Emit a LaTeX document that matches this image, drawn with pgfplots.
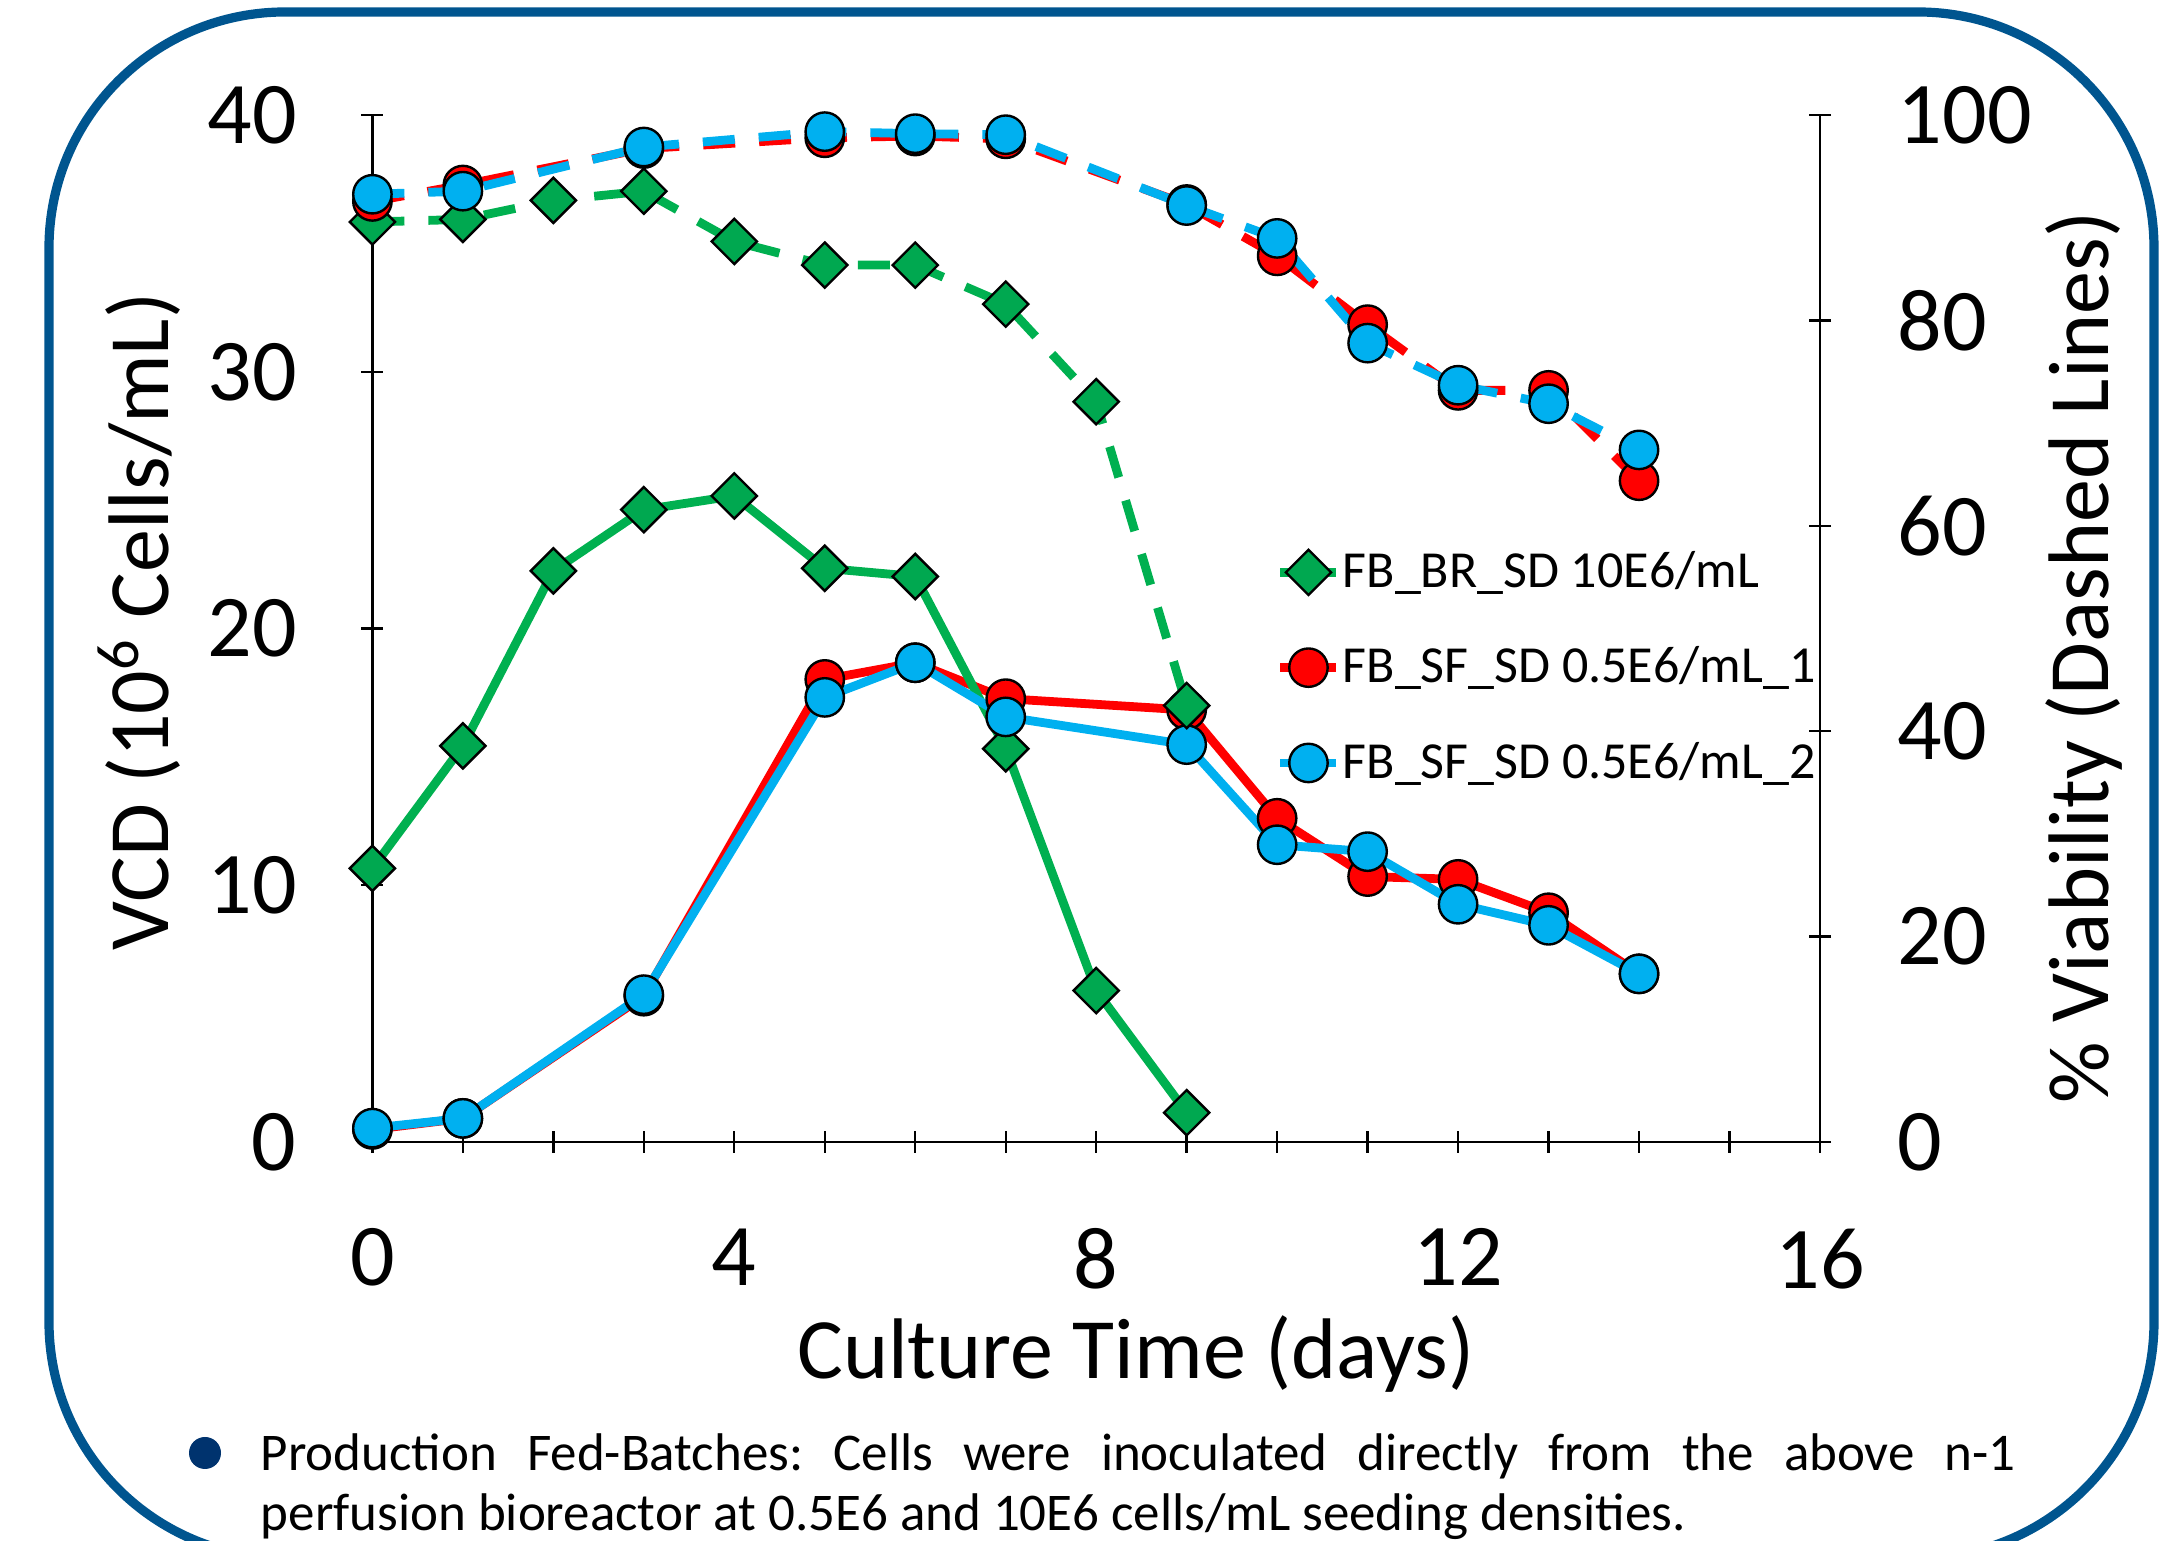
\documentclass[border=0pt]{standalone}
\usepackage{fontspec}
\setmainfont{Carlito}
\usepackage{pgfplots}
\usepackage{pgfplotstable}
\pgfplotsset{compat=1.18}
\definecolor{cgreen}{RGB}{0,176,80}
\definecolor{cgreenm}{RGB}{0,168,80}
\definecolor{cred}{RGB}{255,0,0}
\definecolor{cblue}{RGB}{0,176,240}
\definecolor{cborder}{RGB}{0,85,143}
\definecolor{cbullet}{RGB}{0,51,110}

\pgfplotstableread{
day vcd via
0 10.66 89.6
1 15.43 89.85
2 22.25 91.7
3 24.63 92.6
4 25.17 87.7
5 22.35 85.4
6 22.03 85.4
7 15.32 81.6
8 5.90 72.1
9 1.14 42.5
}\greendata

\pgfplotstableread{
day vcd via
0 0.49 91.6
1 0.92 93.2
3 5.68 96.75
5 18.02 97.8
6 18.67 97.97
7 17.27 97.7
9 16.83 91.3
10 12.61 86.3
11 10.34 79.6
12 10.23 73.2
13 8.93 73.2
14 6.55 64.4
}\reddata

\pgfplotstableread{
day vcd via
0 0.54 92.3
1 0.92 92.6
3 5.74 96.9
5 17.32 98.4
6 18.67 98.2
7 16.56 98.1
9 15.48 91.2
10 11.58 88.0
11 11.31 77.8
12 9.26 73.7
13 8.44 71.9
14 6.55 67.4
}\bluedata

\newcommand{\lblfont}{\fontsize{21.5}{26}\selectfont}
\pgfplotsset{
  base/.style={
    at={(93.1pt,99.75pt)}, anchor=south west,
    scale only axis, width=361.9pt, height=256.7pt,
    xmin=0, xmax=16, clip=false,
    tick align=outside, major tick length=5.5pt, minor tick length=5.5pt,
    every tick/.style={black, line width=0.6pt},
    tick label style={font=\fontsize{22}{26}\selectfont},
    /pgf/number format/assume math mode=true,
  },
  nolinearrows/.style={
    axis line style={-, black, line width=0.6pt},
    every outer x axis line/.append style={-},
    every outer y axis line/.append style={-},
    every inner x axis line/.append style={-},
    every inner y axis line/.append style={-},
  },
  gline/.style={cgreen, line width=2.2pt, mark=square*, mark size=4pt,
    mark options={rotate=45, fill=cgreenm, draw=black, line width=0.6pt, solid}},
  rline/.style={cred, line width=2.2pt, mark=*, mark size=4.8pt,
    mark options={fill=cred, draw=black, line width=0.6pt, solid}},
  bline/.style={cblue, line width=2.2pt, mark=*, mark size=4.8pt,
    mark options={fill=cblue, draw=black, line width=0.6pt, solid}},
  dline/.style={dash pattern=on 8pt off 6pt},
}

\begin{document}
\frenchspacing
\begin{tikzpicture}
\useasboundingbox (0,0) rectangle (544.5pt,385.25pt);
\clip (0,0) rectangle (544.5pt,385.25pt);
\draw[cborder, line width=2.3pt, rounded corners=59pt] (12.25pt,-4.25pt) rectangle (538.5pt,382.25pt);

\begin{axis}[base,
  ymin=0, ymax=40,
  axis x line=bottom, axis y line=left,
  xtick={0,4,8,12,16}, minor xtick={1,2,3,5,6,7,9,10,11,13,14,15},
  ytick={0,10,20,30,40},
  xticklabel style={inner sep=0pt, anchor=north, yshift=-18.75pt},
  yticklabel style={inner sep=0pt, anchor=east, xshift=-16pt},
  xlabel={Culture Time (days)},
  ylabel={VCD (10\textsuperscript{6} Cells/mL)},
  every axis x label/.style={at={(axis description cs:0.5,0)}, anchor=center, xshift=9.9pt, yshift=-53pt, font=\lblfont},
  every axis y label/.style={at={(axis description cs:-0.1614,0.507)}, anchor=center, rotate=90, font=\lblfont},
  legend style={at={(rel axis cs:0.6237,0.578)}, anchor=north west, draw=none, fill=none,
    inner sep=0pt, row sep=12.3pt, nodes={inner sep=0.5pt}, font=\fontsize{13}{15.6}\selectfont},
  legend cell align=left,
  legend image code/.code={\draw[mark repeat=2,mark phase=2,#1] plot coordinates {(0pt,0pt) (7pt,0pt) (14pt,0pt)};},
  nolinearrows,
]
\addplot[rline, forget plot] table[x=day, y=vcd] {\reddata};
\addplot[gline] table[x=day, y=vcd] {\greendata};
\addlegendentry{FB\_BR\_SD 10E6/mL}
\addlegendimage{rline}
\addlegendentry{FB\_SF\_SD 0.5E6/mL\_1}
\addplot[bline] table[x=day, y=vcd] {\bluedata};
\addlegendentry{FB\_SF\_SD 0.5E6/mL\_2}
\end{axis}

\begin{axis}[base,
  ymin=0, ymax=100,
  axis x line=none, axis y line=right,
  ytick={0,20,40,60,80,100},
  yticklabel style={inner sep=0pt, anchor=west, xshift=16.5pt},
  ylabel={\% Viability (Dashed Lines)},
  every axis y label/.style={at={(axis description cs:1.182,0.472)}, anchor=center, rotate=90, font=\lblfont},
  nolinearrows,
]
\addplot[gline, dline] table[x=day, y=via] {\greendata};
\addplot[rline, dline] table[x=day, y=via] {\reddata};
\addplot[bline, dline] table[x=day, y=via] {\bluedata};
\end{axis}

\fill[cbullet] (51.25pt,22pt) circle (4pt);
\node[anchor=north west, inner sep=0pt, text width=438.75pt, align=justify,
  font=\fontsize{13.25}{15}\selectfont] at (65pt,27.1pt)
  {Production Fed-Batches: Cells were inoculated directly from the above \mbox{n-1}\linebreak perfusion bioreactor at 0.5E6 and 10E6 cells/mL seeding densities.};
\end{tikzpicture}
\end{document}
